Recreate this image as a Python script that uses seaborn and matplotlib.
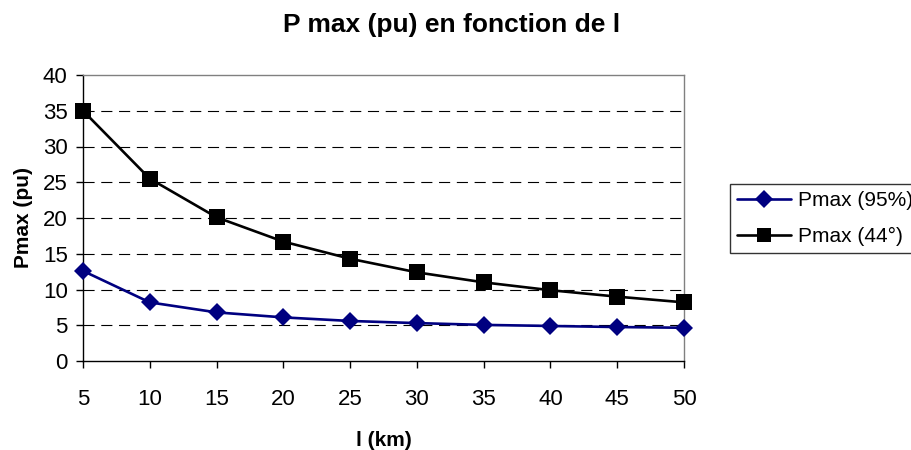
import matplotlib
matplotlib.use("Agg")
import matplotlib.pyplot as plt
from matplotlib.lines import Line2D
import seaborn as sns
import pandas as pd

distance_km = [5, 10, 15, 20, 25, 30, 35, 40, 45, 50]
pmax_95 = [12.6, 8.2, 6.8, 6.1, 5.6, 5.3, 5.05, 4.9, 4.75, 4.65]
pmax_44 = [35.0, 25.5, 20.1, 16.7, 14.3, 12.4, 11.0, 9.9, 9.0, 8.2]
series_names = ["Pmax (95%)", "Pmax (44°)"]
y_ticks = [0, 5, 10, 15, 20, 25, 30, 35, 40]

sns.set_theme(style="white")
plt.rcParams['font.family'] = ['Liberation Sans', 'DejaVu Sans']
plt.rcParams['text.color'] = 'black'
plt.rcParams['axes.labelcolor'] = 'black'
plt.rcParams['xtick.color'] = 'black'
plt.rcParams['ytick.color'] = 'black'

df = pd.DataFrame({
    "l": distance_km * 2,
    "P": pmax_95 + pmax_44,
    "serie": [series_names[0]] * len(distance_km) + [series_names[1]] * len(distance_km),
})

fig = plt.figure(figsize=(9.12, 4.5), dpi=100)
ax = fig.add_axes([83 / 912, 1 - 361 / 450, (684 - 83) / 912, (361 - 75) / 450])

sns.lineplot(data=df, x="l", y="P", hue="serie", style="serie",
             palette={series_names[0]: "#000080", series_names[1]: "#000000"},
             markers={series_names[0]: "D", series_names[1]: "s"},
             dashes=False, linewidth=1.9, markeredgewidth=0,
             ax=ax, legend=False, zorder=3)
for line, ms in zip(ax.get_lines(), [8.8, 11.5]):
    line.set_markersize(ms)
    line.set_clip_on(False)

ax.set_xlim(5, 50)
ax.set_ylim(0, 40)
ax.set_xticks(distance_km)
ax.set_xticklabels([str(v) for v in distance_km])
ax.set_yticks(y_ticks)
ax.set_yticklabels([str(v) for v in y_ticks])

for yv in y_ticks[1:-1]:
    ax.axhline(yv, color="black", lw=0.8, ls=(0, (10, 6)), zorder=1)

for s in ["left", "bottom"]:
    ax.spines[s].set_color("black")
    ax.spines[s].set_linewidth(1.0)
for s in ["top", "right"]:
    ax.spines[s].set_color("#808080")
    ax.spines[s].set_linewidth(1.0)
    ax.spines[s].set_visible(True)

ax.tick_params(axis="y", which="major", left=True, length=5, width=1, direction="out",
               labelsize=16, pad=6)
ax.tick_params(axis="x", which="major", bottom=True, length=5, width=1, direction="out",
               labelsize=16, pad=15)

ax.set_xlabel("l (km)", fontsize=15, fontweight="bold", labelpad=15)
ax.set_ylabel("Pmax (pu)", fontsize=15, fontweight="bold", labelpad=7)

fig.text(452 / 912, 1 - 32 / 450, "P max (pu) en fonction de l", ha="center", va="baseline",
         fontsize=19, fontweight="bold")

handles = [
    Line2D([], [], color="#000080", lw=1.9, marker="D", markersize=8.8, markeredgewidth=0),
    Line2D([], [], color="black", lw=1.9, marker="s", markersize=10.5, markeredgewidth=0),
]
leg = fig.legend(handles, series_names, loc="upper left", bbox_to_anchor=(730 / 912, 1 - 184 / 450),
                 frameon=True, fancybox=False, fontsize=15, handlelength=2.6,
                 handletextpad=0.3, borderpad=0.35, labelspacing=0.8, borderaxespad=0)
leg.get_frame().set_edgecolor("black")
leg.get_frame().set_linewidth(1.0)

fig.savefig("out.png", dpi=100)
